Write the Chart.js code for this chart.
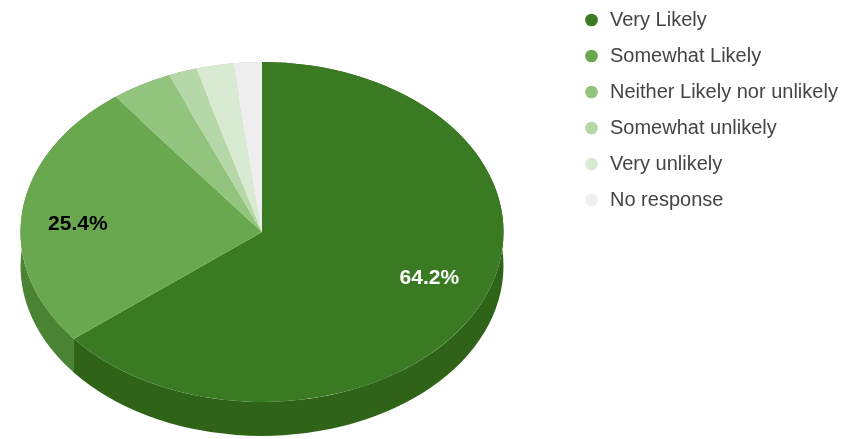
<!DOCTYPE html>
<html>
<head>
<meta charset="utf-8">
<title>Likelihood</title>
<style>
  html, body { margin: 0; padding: 0; background: #fff; }
  #wrap { width: 841px; height: 439px; }
</style>
</head>
<body>
<div id="wrap"><canvas id="grafica" width="841" height="439"></canvas></div>
<script src="https://cdn.jsdelivr.net/npm/chart.js@4"></script>
<script>
const categories = ['Very Likely', 'Somewhat Likely', 'Neither Likely nor unlikely', 'Somewhat unlikely', 'Very unlikely', 'No response'];
const shares = [64.2, 25.4, 4.1, 1.9, 2.5, 1.9];
const topColors = ['#3a7a22', '#69a84f', '#93c47d', '#b6d7a8', '#d9ead3', '#eeeeee'];
const sideColors = ['#2f6418', '#4b8335', '#6f9a5c', '#8dab80', '#a9baa3', '#bdbdbd'];

// where the flattened disc goes on the page
const disc = { cx: 262, cy: 232, rx: 241.5, ry: 170, depth: 34 };
// small vertical nudge so the percent labels clear the slice edges
const labelNudge = [-10, 8];

function tiltContext(ctx, arc) {
    const k = arc.outerRadius;
    ctx.translate(disc.cx, disc.cy);
    ctx.scale(disc.rx / k, disc.ry / k);
    ctx.translate(-arc.x, -arc.y);
}

// the library only draws round pies, so tilt the canvas around the arcs and add the rim
const tiltPlugin = {
    id: 'tilt',
    beforeDatasetsDraw(chart) {
        const ctx = chart.ctx;
        const arcs = chart.getDatasetMeta(0).data;
        ctx.save();
        tiltContext(ctx, arcs[0]);
        arcs.forEach((arc, i) => {
            const drop = disc.depth * arc.outerRadius / disc.ry;
            ctx.fillStyle = sideColors[i];
            ctx.beginPath();
            ctx.arc(arc.x, arc.y, arc.outerRadius, arc.startAngle, arc.endAngle);
            ctx.arc(arc.x, arc.y + drop, arc.outerRadius, arc.endAngle, arc.startAngle, true);
            ctx.closePath();
            ctx.fill();
        });
    },
    afterDatasetsDraw(chart) {
        const ctx = chart.ctx;
        ctx.restore();
        // percent labels only on the two big slices
        chart.getDatasetMeta(0).data.forEach((arc, i) => {
            if (shares[i] < 10) return;
            const mid = (arc.startAngle + arc.endAngle) / 2;
            ctx.save();
            ctx.font = 'bold 21px "Liberation Sans", Arial, sans-serif';
            ctx.fillStyle = i === 0 ? '#ffffff' : '#000000';
            ctx.textAlign = 'center';
            ctx.textBaseline = 'middle';
            ctx.fillText(shares[i].toFixed(1) + '%',
                disc.cx + Math.cos(mid) * disc.rx * 0.768,
                disc.cy + Math.sin(mid) * disc.ry * 0.768 + labelNudge[i]);
            ctx.restore();
        });
    }
};

// legend sits at the top right, a little above where the layout would put it
const legendPlugin = {
    id: 'legendPos',
    afterLayout(chart) {
        chart.legend.left = 567;
        chart.legend.top = -6;
    }
};

new Chart(document.getElementById('grafica'), {
    type: 'pie',
    data: {
        labels: categories,
        datasets: [{
            data: shares,
            backgroundColor: topColors,
            borderWidth: 0,
            clip: false
        }]
    },
    options: {
        responsive: false,
        animation: false,
        plugins: {
            tooltip: { enabled: false },
            legend: {
                position: 'right',
                align: 'start',
                labels: {
                    usePointStyle: true,
                    pointStyle: 'circle',
                    boxWidth: 17,
                    boxHeight: 9,
                    padding: 16,
                    color: '#444444',
                    font: { family: '"Liberation Sans", Arial, sans-serif', size: 20 }
                }
            }
        }
    },
    plugins: [tiltPlugin, legendPlugin]
});
</script>
</body>
</html>
